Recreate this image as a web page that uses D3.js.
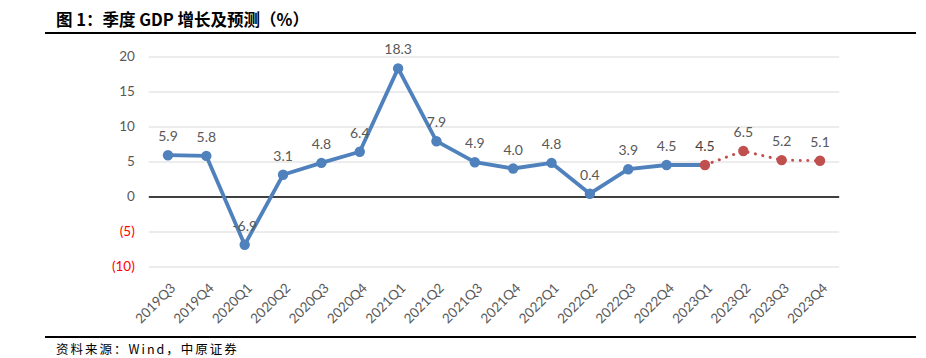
<!DOCTYPE html>
<html>
<head>
<meta charset="utf-8">
<script src="https://cdn.jsdelivr.net/npm/d3@7"></script>
<style>
body { margin: 0; background: #fff; }
svg { display: block; }
</style>
</head>
<body>
<svg></svg>
<script>
// 季度
let quarters = ["2019Q3","2019Q4","2020Q1","2020Q2","2020Q3","2020Q4","2021Q1","2021Q2","2021Q3","2021Q4","2022Q1","2022Q2","2022Q3","2022Q4","2023Q1","2023Q2","2023Q3","2023Q4"]
// 实际值 (tot 2023Q1)
let actual = [5.9, 5.8, -6.9, 3.1, 4.8, 6.4, 18.3, 7.9, 4.9, 4.0, 4.8, 0.4, 3.9, 4.5, 4.5]
// 预测值 (vanaf 2023Q1)
let forecast = [4.5, 6.5, 5.2, 5.1]
let yTicks = [20, 15, 10, 5, 0, -5, -10]

let width = 926
let height = 358

let svg = d3.select("svg").attr("width", width).attr("height", height)

let xScale = d3.scaleBand()
    .domain(quarters)
    .range([148.8, 839.2])

let yScale = d3.scaleLinear()
    .domain([-10, 20])
    .range([266.5, 56.5])

let cx = (q) => xScale(q) + xScale.bandwidth() / 2

// titel + lijnen
svg.append("text")
    .attr("x", 56).attr("y", 26)
    .style("font-family", "'Noto Sans CJK SC', sans-serif")
    .style("font-weight", "bold")
    .style("font-size", "16.5px")
    .attr("fill", "#000")
    .text("图 1：季度 GDP 增长及预测（%）")

svg.append("line").attr("x1", 45).attr("x2", 916).attr("y1", 33).attr("y2", 33)
    .attr("stroke", "#000").attr("stroke-width", 2.2)
svg.append("line").attr("x1", 45).attr("x2", 916).attr("y1", 337).attr("y2", 337)
    .attr("stroke", "#000").attr("stroke-width", 2.2)

svg.append("text")
    .attr("x", 56).attr("y", 354)
    .style("font-family", "'Noto Sans CJK SC', sans-serif")
    .style("font-size", "12.5px")
    .style("letter-spacing", "2px")
    .attr("fill", "#000")
    .text("资料来源：Wind，中原证券")

// grid
let yAxis = d3.axisLeft(yScale)
    .tickValues(yTicks)
    .tickSize(-(839.2 - 148.8))
    .tickFormat(d => d < 0 ? "(" + (-d) + ")" : d)

let gy = svg.append("g")
    .attr("transform", "translate(148.8,0)")
    .call(yAxis)
gy.select(".domain").remove()
gy.selectAll("line")
    .attr("stroke", d => d == 0 ? "#000" : "#d9d9d9")
    .attr("stroke-width", d => d == 0 ? 1.3 : 1)
gy.selectAll("text")
    .attr("x", -14)
    .style("font-family", "Lato, sans-serif")
    .style("font-size", "13.5px")
    .attr("fill", d => d < 0 ? "#ff0000" : "#595959")

// x labels
let xAxis = d3.axisBottom(xScale).tickSize(0)
let gx = svg.append("g")
    .attr("transform", "translate(0,266.5)")
    .call(xAxis)
gx.select(".domain").remove()
gx.selectAll("text")
    .attr("transform", "translate(5,19) rotate(-45)")
    .attr("dy", "0.35em")
    .attr("y", 0)
    .style("text-anchor", "end")
    .style("font-family", "Lato, sans-serif")
    .style("font-size", "13.5px")
    .attr("fill", "#595959")

// lijnen
let actualData = actual.map((v, i) => ({ q: quarters[i], v: v }))
let forecastData = forecast.map((v, i) => ({ q: quarters[14 + i], v: v }))

let line = d3.line().x(d => cx(d.q)).y(d => yScale(d.v))

svg.append("path")
    .datum(actualData)
    .attr("d", line)
    .attr("fill", "none")
    .attr("stroke", "#4f81bd")
    .attr("stroke-width", 3.8)
    .attr("stroke-linejoin", "round")

svg.append("path")
    .datum(forecastData)
    .attr("d", line)
    .attr("fill", "none")
    .attr("stroke", "#c0504d")
    .attr("stroke-width", 3)
    .attr("stroke-linecap", "round")
    .attr("stroke-dasharray", "0.1 7.5")

svg.selectAll(".dotA")
    .data(actualData.slice(0, 14))
    .enter()
    .append("circle")
    .attr("cx", d => cx(d.q))
    .attr("cy", d => yScale(d.v))
    .attr("r", 5.2)
    .attr("fill", "#4f81bd")

svg.selectAll(".dotF")
    .data(forecastData)
    .enter()
    .append("circle")
    .attr("cx", d => cx(d.q))
    .attr("cy", d => yScale(d.v))
    .attr("r", 5.2)
    .attr("fill", "#c0504d")

// waarde labels
let labelData = actualData.concat(forecastData.slice(1))
svg.selectAll(".lbl")
    .data(labelData)
    .enter()
    .append("text")
    .attr("x", d => cx(d.q))
    .attr("y", d => yScale(d.v) - 14)
    .attr("text-anchor", "middle")
    .style("font-family", "Lato, sans-serif")
    .style("font-size", "14px")
    .attr("fill", d => d.q == "2023Q1" ? "#404040" : "#595959")
    .text(d => d.v.toFixed(1))
</script>
</body>
</html>
